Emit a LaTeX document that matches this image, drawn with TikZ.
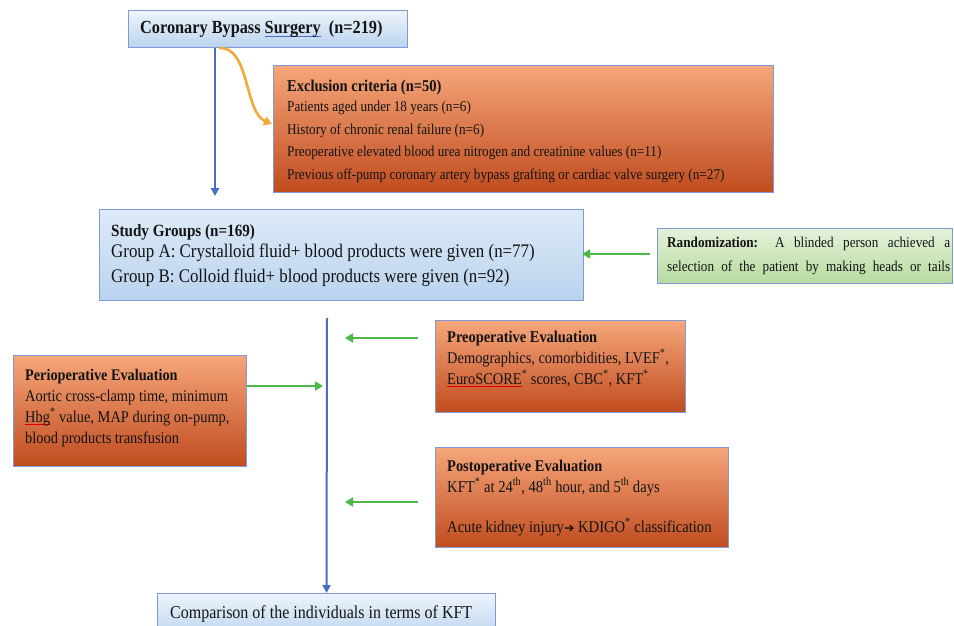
\documentclass[tikz,border=0pt]{standalone}
\usepackage{fontspec}
\setmainfont[FakeStretch=0.88]{Liberation Serif}
\newfontfamily\symfont{DejaVu Sans}
\usetikzlibrary{arrows.meta,calc}
\definecolor{boxedge}{HTML}{7F9AD6}
\definecolor{bluetop}{HTML}{EEF4FB}
\definecolor{bluebot}{HTML}{B9D3EE}
\definecolor{ortop}{HTML}{F5A67A}
\definecolor{ormid}{HTML}{F0761F}
\definecolor{orbot}{HTML}{C04C1F}
\definecolor{grtop}{HTML}{E4F1DA}
\definecolor{grbot}{HTML}{B7DBA0}
\definecolor{arrblue}{HTML}{4A6CC2}
\definecolor{arrgreen}{HTML}{4DB848}
\definecolor{arrorange}{HTML}{F2A93B}
\newcommand\redmark[1]{\setbox0=\hbox{#1}\rlap{\textcolor{red!85!black}{\raisebox{-2.5pt}{\rule{\wd0}{0.7pt}}}}\box0}
\newcommand\bluemark[1]{\setbox0=\hbox{#1}\rlap{\textcolor{arrblue}{\raisebox{-2.5pt}{\rule{\wd0}{0.7pt}}}}\box0}
\newcommand\astx{\textsuperscript{*}}
\begin{document}
\begin{tikzpicture}[x=1pt,y=-1pt,
  panel/.style={draw=boxedge,line width=1.1pt,anchor=north west,inner sep=0pt},
  bluebox/.style={panel,top color=bluetop,bottom color=bluebot},
  orangebox/.style={panel,top color=ortop,middle color=ormid,bottom color=orbot},
  greenbox/.style={panel,top color=grtop,bottom color=grbot},
  txt/.style={anchor=base west,inner sep=0pt,align=left,text=black!92},
  bluearrow/.style={draw=arrblue,line width=2pt,-{Triangle[length=8pt,width=8pt]}},
  greenarrow/.style={draw=arrgreen,line width=2.6pt,-{Triangle[length=8pt,width=9pt]}},
  orangearrow/.style={draw=arrorange,line width=2.6pt,-{Triangle[length=8pt,width=9pt]}}]
\useasboundingbox[fill=white] (0,0) rectangle (954,626);
\clip (0,0) rectangle (954,626);
% boxes
\node[bluebox,minimum width=279pt,minimum height=37pt] (cabg) at (128,10) {};
\node[orangebox,minimum width=500pt,minimum height=127pt] (excl) at (273,65) {};
\node[bluebox,top color=bluetop!70!bluebot,minimum width=484pt,minimum height=91pt] (sg) at (99,209) {};
\node[greenbox,minimum width=295pt,minimum height=55pt] (rand) at (657,228) {};
\node[orangebox,minimum width=233pt,minimum height=111pt] (periop) at (13,355) {};
\node[orangebox,minimum width=250pt,minimum height=92pt] (preop) at (435,320) {};
\node[orangebox,minimum width=293pt,minimum height=100pt] (postop) at (435,447) {};
\node[bluebox,minimum width=338pt,minimum height=45pt] (cmp) at (157,593) {};
% texts (anchor = baseline of the last line)
\node[txt,font=\fontsize{18.5}{20}\selectfont\bfseries] (cabgT) at (140,34)
  {Coronary Bypass \bluemark{Surgery}\ \ (n=219)};
\node[txt,font=\fontsize{15}{22.5}\selectfont] (exclT) at (287,179)
  {{\fontsize{16.5}{20}\selectfont\bfseries Exclusion criteria (n=50)}\\[-2.5pt]
   Patients aged under 18 years (n=6)\\
   History of chronic renal failure (n=6)\\
   Preoperative elevated blood urea nitrogen and creatinine values (n=11)\\
   Previous off-pump coronary artery bypass grafting or cardiac valve surgery (n=27)};
\node[txt,font=\fontsize{19.2}{24.5}\selectfont] (sgT) at (111,282)
  {{\fontsize{17.2}{20}\selectfont\bfseries Study Groups (n=169)}\\[-3pt]
   Group A: Crystalloid fluid+ blood products were given (n=77)\\
   Group B: Colloid fluid+ blood products were given (n=92)};
\node[txt,font=\fontsize{15}{24}\selectfont] (randT) at (667,271)
  {\makebox[283pt][s]{\textbf{Randomization:} A blinded person achieved a}\\
   \makebox[283pt][s]{selection of the patient by making heads or tails}};
\node[txt,font=\fontsize{16.4}{21}\selectfont] (periopT) at (25,443)
  {{\fontsize{16.2}{20}\selectfont\bfseries Perioperative Evaluation}\\
   Aortic cross-clamp time, minimum\\
   \redmark{Hbg}\astx\ value, MAP during on-pump,\\
   blood products transfusion};
\node[txt,font=\fontsize{16.4}{21}\selectfont] (preopT) at (447,384)
  {{\fontsize{16.4}{20}\selectfont\bfseries Preoperative Evaluation}\\
   Demographics, comorbidities, LVEF\astx,\\
   \redmark{EuroSCORE}\astx\ scores, CBC\astx, KFT\astx};
\node[txt,font=\fontsize{16.6}{21}\selectfont] (postopT) at (447,532)
  {{\fontsize{16.4}{20}\selectfont\bfseries Postoperative Evaluation}\\
   KFT\astx\ at 24\textsuperscript{th}, 48\textsuperscript{th} hour, and 5\textsuperscript{th} days\\[19pt]
   Acute kidney injury{\symfont\fontsize{12.5}{12}\selectfont ➔} KDIGO\astx\ classification};
\node[txt,font=\fontsize{18.2}{20}\selectfont] (cmpT) at (170,618)
  {Comparison of the individuals in terms of KFT};
% connectors
\coordinate (vtop) at (327,318);
\coordinate (v1s) at ($(cabg.south west)+(87,0)$);
\draw[bluearrow,shorten >=13pt] (v1s) -- (v1s |- sg.north);
\draw[orangearrow] ($(cabg.south west)+(91,0)$) .. controls (250,46) and (244,112) .. ($(excl.west)+(-1,-5)$);
\draw[bluearrow] (vtop) -- (cmp.north);
\draw[greenarrow,shorten <=7pt,shorten >=-2pt] (rand.west |- 0,254) -- (sg.east |- 0,254);
\draw[greenarrow,shorten <=17pt] (preop.north west |- 0,338) -- ($(vtop |- 0,338)+(18,0)$);
\draw[greenarrow,shorten <=17pt] (postop.north west |- 0,502) -- ($(vtop |- 0,502)+(18,0)$);
\draw[greenarrow,shorten >=4pt] (periop.north east |- 0,386) -- (vtop |- 0,386);
\end{tikzpicture}
\end{document}
